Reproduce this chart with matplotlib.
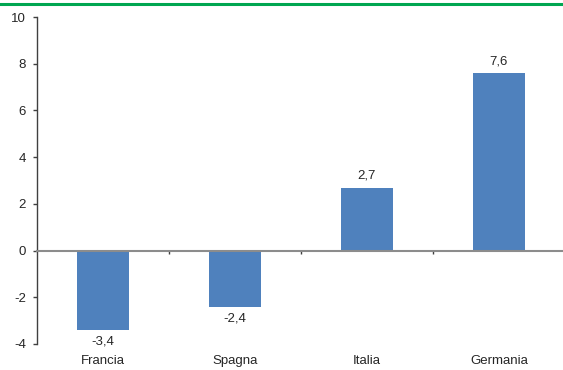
import matplotlib.pyplot as plt
from matplotlib.lines import Line2D
from matplotlib.ticker import MultipleLocator, FixedLocator
import matplotlib.transforms as mtransforms

plt.rcParams['font.family'] = ['Liberation Sans Narrow', 'Liberation Sans', 'DejaVu Sans']
plt.rcParams['axes.unicode_minus'] = False

paesi = ["Francia", "Spagna", "Italia", "Germania"]
valori = [-3.4, -2.4, 2.7, 7.6]

bar_color = "#4F81BD"
text_color = "#262626"

fig = plt.figure(figsize=(5.63, 3.70), dpi=100)
ax = fig.add_axes([37 / 563, 26 / 370, 528 / 563, 327 / 370])

x = range(len(paesi))
bars = ax.bar(x, valori, width=0.4, color=bar_color, zorder=2)
ax.bar_label(bars, labels=[f"{v:.1f}".replace(".", ",") for v in valori],
             padding=4, fontsize=9.5, color=text_color)

ax.set_xlim(-0.5, len(paesi) - 0.5)
ax.set_ylim(-4, 10)
ax.yaxis.set_major_locator(MultipleLocator(2))

# zero line carries the category separators
ax.spines['bottom'].set_position(('data', 0))
ax.spines['bottom'].set_color("#8c8c8c")
ax.spines['bottom'].set_linewidth(1.5)
ax.spines['top'].set_visible(False)
ax.spines['right'].set_visible(False)
ax.spines['left'].set_color("#404040")
ax.spines['left'].set_linewidth(1.0)

ax.xaxis.set_major_locator(FixedLocator([i + 0.5 for i in range(len(paesi) - 1)]))
ax.tick_params(axis='x', direction='out', length=2.5, width=1, color="#404040",
               labelbottom=False)
ax.tick_params(axis='y', direction='out', length=3, width=1, color="#404040",
               labelsize=9.5, labelcolor=text_color, pad=5)

trans = mtransforms.blended_transform_factory(ax.transData, ax.transAxes)
for i, nome in enumerate(paesi):
    ax.text(i, -0.035, nome, transform=trans, ha='center', va='top',
            fontsize=9.5, color=text_color)

fig.add_artist(Line2D([0, 1], [1 - 4 / 370, 1 - 4 / 370], color="#00A651",
                      linewidth=2.2, transform=fig.transFigure))

fig.savefig("out.png", dpi=100)
